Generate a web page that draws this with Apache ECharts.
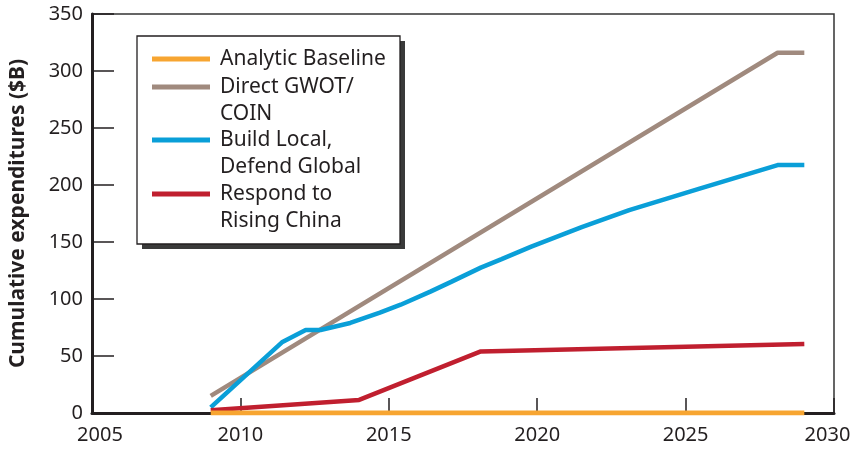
<!DOCTYPE html>
<html>
<head>
<meta charset="utf-8">
<script src="https://cdn.jsdelivr.net/npm/echarts@6/dist/echarts.min.js"></script>
<style>
html,body{margin:0;padding:0;background:#fff;}
#chart{width:856px;height:449px;}
</style>
</head>
<body>
<div id="chart"></div>
<script>
// ---- data ----
const seriesNames = ['Analytic Baseline', 'Direct GWOT/\nCOIN', 'Build Local,\nDefend Global', 'Respond to\nRising China'];
const analyticYears = [2009, 2029];
const analyticValues = [0, 0];
const gwotYears = [2009, 2028.1, 2029];
const gwotValues = [15, 316, 316];
const buildYears = [2009, 2011.4, 2012.2, 2012.7, 2013.7, 2014.7, 2015.4, 2016.4, 2017.1, 2018.1, 2018.8, 2019.8, 2021.5, 2023.1, 2025.5, 2028.1, 2029];
const buildValues = [5, 62, 72.8, 72.8, 79, 88, 95, 106.5, 115, 127.5, 135, 146, 163, 178, 197, 217.5, 217.5];
const chinaYears = [2009, 2014, 2018.1, 2029];
const chinaValues = [2.5, 11.5, 54, 60.5];
const xTickValues = [2005, 2010, 2015, 2020, 2025, 2030];
const yTickValues = [0, 50, 100, 150, 200, 250, 300, 350];

const colors = ['#f7a531', '#a08a7e', '#0a9fd8', '#c01f2f'];
const ink = '#231f20';

function pairs(xs, ys) { return xs.map((x, i) => [x, ys[i]]); }

const chart = echarts.init(document.getElementById('chart'));

function legendFor(name, firstLineCenter, twoLines) {
  return {
    data: [name],
    orient: 'vertical',
    left: 152,
    top: twoLines ? firstLineCenter - 40.5 : firstLineCenter - 13.5,
    padding: 0,
    icon: 'rect',
    itemWidth: 58,
    itemHeight: 5,
    selectedMode: false,
    z: 10,
    formatter: function (n) { return twoLines ? '\n' + n : n; },
    textStyle: {
      fontFamily: 'Noto Sans',
      fontSize: 21,
      color: ink,
      lineHeight: 27,
      padding: [0, 0, 0, 5]
    }
  };
}

const option = {
  animation: false,
  textStyle: { fontFamily: 'Noto Sans' },
  grid: {
    left: 92, right: 22, top: 14, bottom: 36,
    show: true, borderColor: '#333', borderWidth: 1.5, backgroundColor: 'transparent'
  },
  graphic: [
    { type: 'rect', shape: { x: 142, y: 41, width: 263, height: 208 }, style: { fill: '#3a3a3a' }, z: 5 },
    { type: 'rect', shape: { x: 137, y: 36, width: 263, height: 208 }, style: { fill: '#fff', stroke: ink, lineWidth: 1.3 }, z: 6 }
  ],
  legend: [
    legendFor(seriesNames[0], 59, false),
    legendFor(seriesNames[1], 87, true),
    legendFor(seriesNames[2], 140, true),
    legendFor(seriesNames[3], 194, true)
  ],
  xAxis: {
    type: 'value',
    min: xTickValues[0], max: xTickValues[xTickValues.length - 1], interval: 5,
    axisLine: { show: true, lineStyle: { color: ink, width: 3 } },
    axisTick: { show: true, inside: true, length: 15, lineStyle: { color: ink, width: 1.5 } },
    splitLine: { show: false },
    axisLabel: {
      margin: 12,
      color: ink,
      fontSize: 20,
      formatter: function (v) {
        if (v === xTickValues[0]) return '{l|' + v + '}';
        if (v === xTickValues[xTickValues.length - 1]) return '{r|' + v + '}';
        return '{n|' + v + '}';
      },
      rich: {
        l: { fontSize: 20, color: ink, fontFamily: 'Noto Sans', padding: [0, 0, 0, 16] },
        r: { fontSize: 20, color: ink, fontFamily: 'Noto Sans', padding: [0, 13, 0, 0] },
        n: { fontSize: 20, color: ink, fontFamily: 'Noto Sans' }
      }
    }
  },
  yAxis: {
    type: 'value',
    min: yTickValues[0], max: yTickValues[yTickValues.length - 1], interval: 50,
    name: 'Cumulative expenditures ($B)',
    nameLocation: 'middle',
    nameGap: 63,
    nameTextStyle: { fontSize: 21, fontWeight: 'bold', color: ink, fontFamily: 'Noto Sans' },
    axisLine: { show: true, lineStyle: { color: ink, width: 3 } },
    axisTick: { show: true, inside: true, length: 22, lineStyle: { color: ink, width: 1.5 } },
    splitLine: { show: false },
    axisLabel: { margin: 9, color: ink, fontSize: 20 }
  },
  series: [
    { name: seriesNames[1], type: 'line', data: pairs(gwotYears, gwotValues), showSymbol: false, symbol: 'none', lineStyle: { color: colors[1], width: 4.5 }, itemStyle: { color: colors[1] }, z: 2 },
    { name: seriesNames[2], type: 'line', data: pairs(buildYears, buildValues), showSymbol: false, symbol: 'none', lineStyle: { color: colors[2], width: 4.5 }, itemStyle: { color: colors[2] }, z: 3 },
    { name: seriesNames[3], type: 'line', data: pairs(chinaYears, chinaValues), showSymbol: false, symbol: 'none', lineStyle: { color: colors[3], width: 4.5 }, itemStyle: { color: colors[3] }, z: 3 },
    { name: seriesNames[0], type: 'line', data: pairs(analyticYears, analyticValues), showSymbol: false, symbol: 'none', lineStyle: { color: colors[0], width: 5 }, itemStyle: { color: colors[0] }, z: 4 }
  ]
};
chart.setOption(option);
</script>
</body>
</html>
